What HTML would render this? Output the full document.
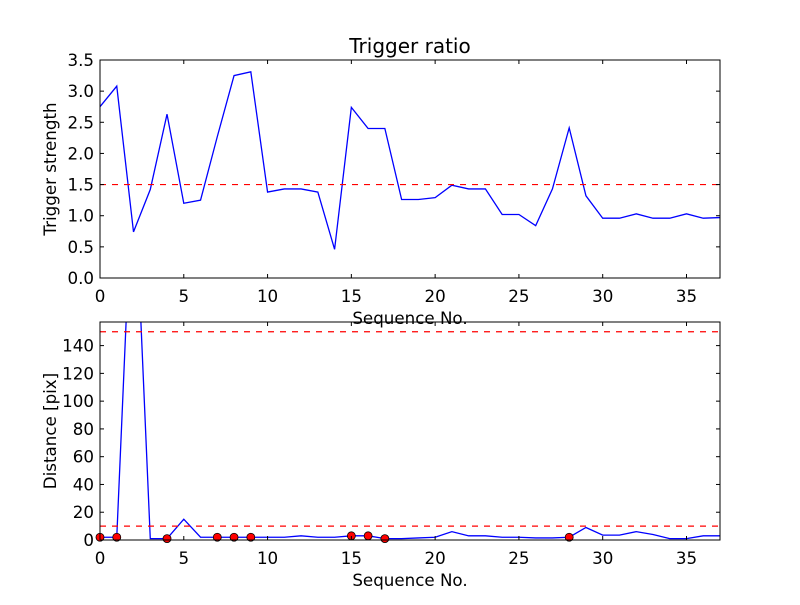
<!DOCTYPE html>
<html><head><meta charset="utf-8"><style>
body{margin:0;background:#fff}
svg text{font-family:"DejaVu Sans","Liberation Sans",sans-serif;fill:#000}
</style></head><body>
<svg id="c" width="800" height="600" viewBox="0 0 800 600"></svg>
<script>
const seq = Array.from({length:38},(_,i)=>i);
const triggerStrength = [2.75,3.08,0.74,1.42,2.63,1.2,1.25,2.27,3.25,3.31,1.38,1.43,1.43,1.38,0.46,2.74,2.40,2.40,1.26,1.26,1.29,1.49,1.43,1.43,1.02,1.02,0.84,1.43,2.41,1.32,0.96,0.96,1.03,0.96,0.96,1.03,0.96,0.97];
const distance = [2,2,280,1,1,15,2,2,2,2,2,2,3,2,2,3,3,1,1,1.5,2,6,3,3,2,2,1.5,1.5,2,9,3.5,3.5,6,4,1,1,3,3];
const triggeredIdx = [0,1,4,7,8,9,15,16,17,28];
const topThreshold = 1.5;
const bottomThresholds = [150,10];
const topYTicks = [0,0.5,1,1.5,2,2.5,3,3.5];
const bottomYTicks = [0,20,40,60,80,100,120,140];
const xTicks = [0,5,10,15,20,25,30,35];

const NS="http://www.w3.org/2000/svg";
const svg=document.getElementById('c');
function el(tag,attrs,parent){const e=document.createElementNS(NS,tag);for(const k in attrs)e.setAttribute(k,attrs[k]);(parent||svg).appendChild(e);return e;}
function txt(s,attrs,parent){const t=el('text',attrs,parent);t.textContent=s;return t;}

function panel(id,top,bottom,ymax,yTicks,fmt,ylabel){
  const L=100,R=720,xmax=37;
  const sx=v=>L+(v/xmax)*(R-L);
  const sy=v=>bottom-(v/ymax)*(bottom-top);
  const g=el('g',{});
  
  
  const cp=el('clipPath',{id:id+'clip'},g);
  el('rect',{x:L,y:top,width:R-L,height:bottom-top},cp);
  const plot=el('g',{'clip-path':'url(#'+id+'clip)'},g);
  return {g,plot,sx,sy,L,R,top,bottom,finish(){
    el('rect',{x:L,y:top,width:R-L,height:bottom-top,fill:'none',stroke:'#000','stroke-width':1}, g);
    xTicks.forEach(v=>{const x=sx(v);
      el('line',{x1:x,x2:x,y1:bottom,y2:bottom-4,stroke:'#000'},g);
      el('line',{x1:x,x2:x,y1:top,y2:top+4,stroke:'#000'},g);
      const t=txt(String(v),{x:x,y:bottom+24,'font-size':16.7,'text-anchor':'middle'},g);
      });
    yTicks.forEach(v=>{const y=sy(v);
      el('line',{x1:L,x2:L+4,y1:y,y2:y,stroke:'#000'},g);
      el('line',{x1:R,x2:R-4,y1:y,y2:y,stroke:'#000'},g);
      const t=txt(fmt(v),{x:L-6,y:y+6,'font-size':16.7,'text-anchor':'end'},g);
      });
    const xl=txt('Sequence No.',{x:(L+R)/2,y:bottom+46,'font-size':16.7,'text-anchor':'middle'},g);
    
    const cy=(top+bottom)/2;
    const yl=txt(ylabel,{x:56,y:cy,'font-size':16.7,'text-anchor':'middle',transform:'rotate(-90 56 '+cy+')'},g);
    
  }};
}
function polyline(p,xs,ys,name){
  const pts=xs.map((x,i)=>p.sx(x).toFixed(2)+','+p.sy(ys[i]).toFixed(2)).join(' ');
  const l=el('polyline',{points:pts,fill:'none',stroke:'#0000ff','stroke-width':1.3},p.plot);
  
}
function hline(p,v,name){
  const l=el('line',{x1:p.L,x2:p.R,y1:p.sy(v),y2:p.sy(v),stroke:'#ff0000','stroke-width':1.2,'stroke-dasharray':'6,6'},p.plot);
  
}

const t=txt('Trigger ratio',{x:410,y:53,'font-size':20,'text-anchor':'middle'});

const p1=panel('top',60,278,3.5,topYTicks,v=>v.toFixed(1),'Trigger strength');
polyline(p1,seq,triggerStrength,'trigger-strength-line');
hline(p1,topThreshold,'trigger-threshold-line');
p1.finish();

const p2=panel('bottom',322,540,157,bottomYTicks,v=>String(v),'Distance [pix]');
polyline(p2,seq,distance,'distance-line');
bottomThresholds.forEach(v=>hline(p2,v,'distance-threshold-line'));
triggeredIdx.forEach(i=>{
  const c=el('circle',{cx:p2.sx(seq[i]),cy:p2.sy(distance[i]),r:4,fill:'#ff0000',stroke:'#000','stroke-width':0.8},p2.g);
  
});
p2.finish();
</script>
</body></html>
